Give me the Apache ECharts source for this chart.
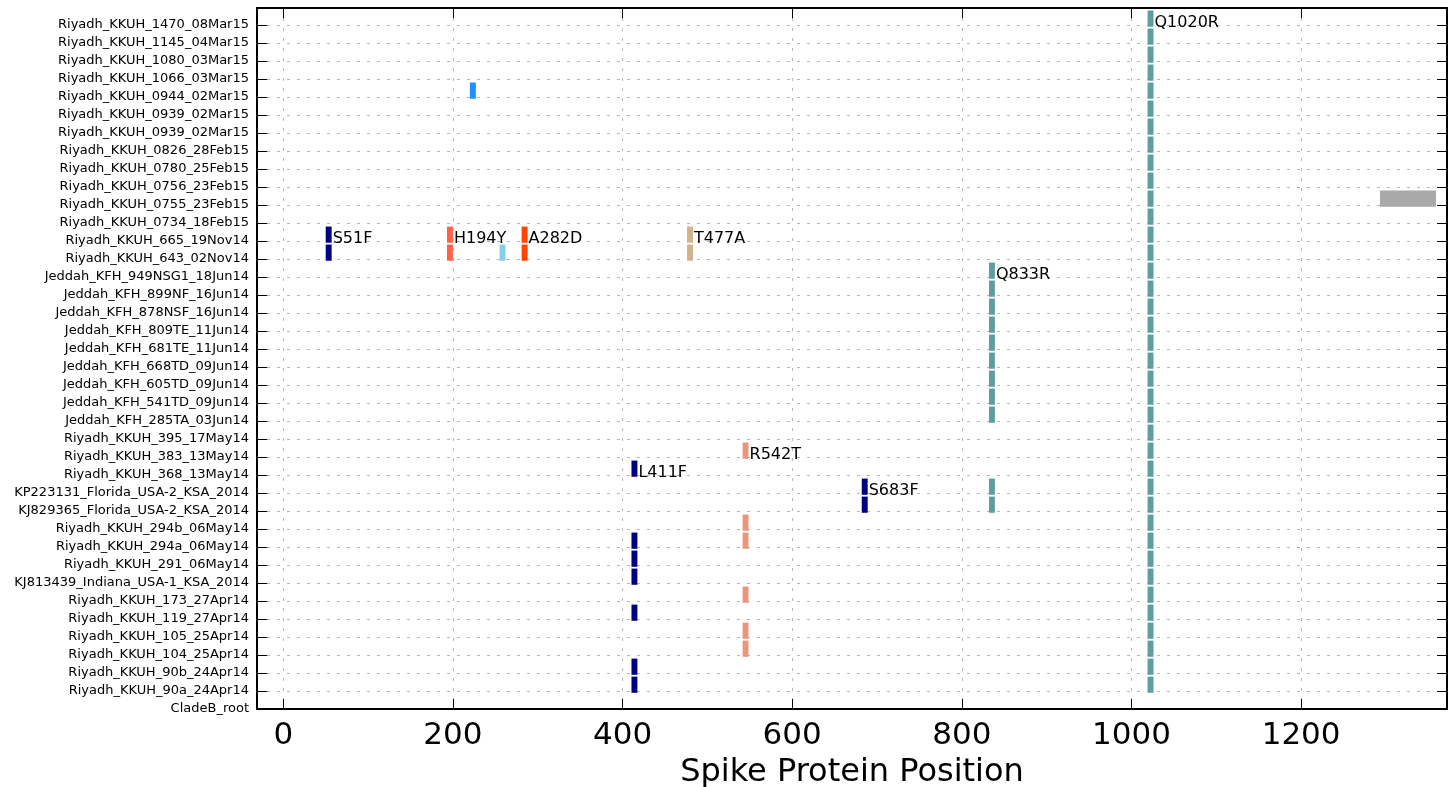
<!DOCTYPE html>
<html>
<head>
<meta charset="utf-8">
<script src="https://cdn.jsdelivr.net/npm/echarts@6/dist/echarts.min.js"></script>
<style>
html, body { margin: 0; padding: 0; background: #fff; }
#container { width: 1449px; height: 787px; }
</style>
</head>
<body>
<div id="container"></div>
<script type="text/javascript">
// samples, bottom (index 0) to top
var samples = [
    'CladeB_root',
    'Riyadh_KKUH_90a_24Apr14', 'Riyadh_KKUH_90b_24Apr14', 'Riyadh_KKUH_104_25Apr14',
    'Riyadh_KKUH_105_25Apr14', 'Riyadh_KKUH_119_27Apr14', 'Riyadh_KKUH_173_27Apr14',
    'KJ813439_Indiana_USA-1_KSA_2014', 'Riyadh_KKUH_291_06May14', 'Riyadh_KKUH_294a_06May14',
    'Riyadh_KKUH_294b_06May14', 'KJ829365_Florida_USA-2_KSA_2014', 'KP223131_Florida_USA-2_KSA_2014',
    'Riyadh_KKUH_368_13May14', 'Riyadh_KKUH_383_13May14', 'Riyadh_KKUH_395_17May14',
    'Jeddah_KFH_285TA_03Jun14', 'Jeddah_KFH_541TD_09Jun14', 'Jeddah_KFH_605TD_09Jun14',
    'Jeddah_KFH_668TD_09Jun14', 'Jeddah_KFH_681TE_11Jun14', 'Jeddah_KFH_809TE_11Jun14',
    'Jeddah_KFH_878NSF_16Jun14', 'Jeddah_KFH_899NF_16Jun14', 'Jeddah_KFH_949NSG1_18Jun14',
    'Riyadh_KKUH_643_02Nov14', 'Riyadh_KKUH_665_19Nov14', 'Riyadh_KKUH_0734_18Feb15',
    'Riyadh_KKUH_0755_23Feb15', 'Riyadh_KKUH_0756_23Feb15', 'Riyadh_KKUH_0780_25Feb15',
    'Riyadh_KKUH_0826_28Feb15', 'Riyadh_KKUH_0939_02Mar15', 'Riyadh_KKUH_0939_02Mar15',
    'Riyadh_KKUH_0944_02Mar15', 'Riyadh_KKUH_1066_03Mar15', 'Riyadh_KKUH_1080_03Mar15',
    'Riyadh_KKUH_1145_04Mar15', 'Riyadh_KKUH_1470_08Mar15'
];

var xTicks = [0, 200, 400, 600, 800, 1000, 1200];

// one entry per mutation
var mutLabel = ['S51F', 'H194Y', '', 'A282D', 'T477A', '', 'L411F', 'R542T', 'S683F', 'Q833R', 'Q1020R', ''];
var mutStart = [50, 193, 255, 281, 476, 220, 410.5, 541.5, 682, 832, 1019, 1293];
var mutWidth = [7, 7, 7, 7, 7, 7, 7, 7, 7, 7, 7, 66];
var mutColor = ['#000080', '#FF6347', '#87CEEB', '#FF4500', '#D2B48C', '#1E90FF',
                '#000080', '#E9967A', '#000080', '#5F9EA0', '#5F9EA0', '#A9A9A9'];
var mutRows = [
    [26, 25],
    [26, 25],
    [25],
    [26, 25],
    [26, 25],
    [34],
    [13, 9, 8, 7, 5, 2, 1],
    [14, 10, 9, 6, 4, 3],
    [12, 11],
    [24, 23, 22, 21, 20, 19, 18, 17, 16, 12, 11],
    [38, 37, 36, 35, 34, 33, 32, 31, 30, 29, 28, 27, 26, 25, 24, 23, 22, 21, 20,
     19, 18, 17, 16, 15, 14, 13, 12, 11, 10, 9, 8, 7, 6, 5, 4, 3, 2, 1],
    [28]
];

var cells = [];
var labels = [];
for (var m = 0; m < mutLabel.length; m++) {
    for (var k = 0; k < mutRows[m].length; k++) {
        cells.push([mutStart[m], mutStart[m] + mutWidth[m], mutRows[m][k], m]);
    }
    if (mutLabel[m]) {
        labels.push([mutStart[m] + mutWidth[m], Math.max.apply(null, mutRows[m]), m]);
    }
}

var gridStyle = { color: '#b8b8b8', width: 1, type: [3, 7] };
var frameLine = { show: true, onZero: false, lineStyle: { color: '#000', width: 2 } };
var tickStyle = { color: '#000', width: 1 };

var myChart = echarts.init(document.getElementById('container'));
var option = {
    animation: false,
    backgroundColor: '#fff',
    grid: { left: 257, right: 2, top: 8, bottom: 78, containLabel: false, outerBoundsMode: 'none' },
    xAxis: [
        {
            type: 'value', position: 'bottom', min: -31, max: 1372,
            name: 'Spike Protein Position', nameLocation: 'middle', nameGap: 48,
            nameTextStyle: { fontSize: 32, color: '#000', fontFamily: 'DejaVu Sans' },
            axisLine: frameLine,
            axisTick: { show: true, inside: true, length: 10, customValues: xTicks, lineStyle: tickStyle },
            axisLabel: {
                customValues: xTicks, fontSize: 31, color: '#000', fontFamily: 'DejaVu Sans', margin: 11,
                formatter: function (v) { return String(v); }
            },
            splitLine: { show: true, lineStyle: gridStyle }
        },
        {
            type: 'value', position: 'top', min: -31, max: 1372,
            axisLine: frameLine,
            axisTick: { show: true, inside: true, length: 10, customValues: xTicks, lineStyle: tickStyle },
            axisLabel: { show: false },
            splitLine: { show: false }
        }
    ],
    yAxis: [
        {
            type: 'value', position: 'left', min: 0, max: 38.94, interval: 1,
            axisLine: frameLine,
            axisTick: { show: true, inside: true, length: 10, lineStyle: tickStyle },
            axisLabel: {
                fontSize: 13, color: '#000', fontFamily: 'DejaVu Sans', margin: 8,
                showMaxLabel: false,
                formatter: function (v) { return Number.isInteger(v) ? samples[v] : ''; }
            },
            splitLine: { show: true, lineStyle: gridStyle }
        },
        {
            type: 'value', position: 'right', min: 0, max: 38.94, interval: 1,
            axisLine: frameLine,
            axisTick: { show: true, inside: true, length: 10, lineStyle: tickStyle },
            axisLabel: { show: false },
            splitLine: { show: false }
        }
    ],
    series: [
        {
            type: 'custom',
            xAxisIndex: 0,
            yAxisIndex: 0,
            data: cells,
            renderItem: function (params, api) {
                var p0 = api.coord([api.value(0), api.value(2) - 0.1]);
                var p1 = api.coord([api.value(1), api.value(2) + 0.8]);
                return {
                    type: 'rect',
                    shape: { x: p0[0], y: p1[1], width: p1[0] - p0[0], height: p0[1] - p1[1] },
                    style: { fill: mutColor[api.value(3)] }
                };
            }
        },
        {
            type: 'custom',
            xAxisIndex: 0,
            yAxisIndex: 0,
            data: labels,
            z: 5,
            renderItem: function (params, api) {
                var p = api.coord([api.value(0), api.value(1) - 0.1]);
                return {
                    type: 'text',
                    x: p[0] + 1,
                    y: p[1] + 4,
                    style: {
                        text: mutLabel[api.value(2)],
                        fill: '#000',
                        fontSize: 16,
                        fontFamily: 'DejaVu Sans',
                        align: 'left',
                        verticalAlign: 'bottom'
                    }
                };
            }
        }
    ]
};
myChart.setOption(option, true);
</script>
</body>
</html>
